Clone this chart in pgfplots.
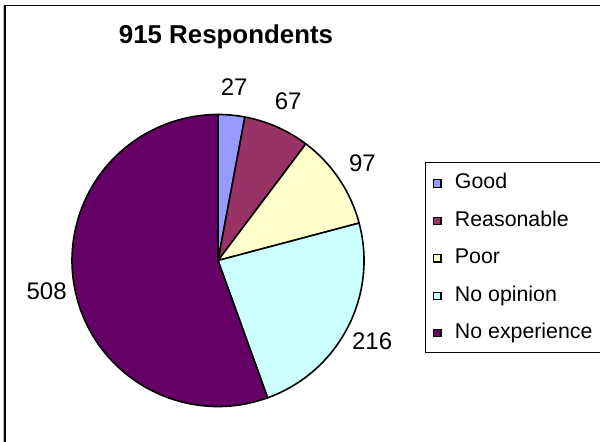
\documentclass[border=0pt]{standalone}
\usepackage{pgfplots}
\usepackage{pgfplotstable}
\pgfplotsset{compat=1.18}
\usepackage{fontspec}
\setmainfont{Liberation Sans}

\definecolor{cGood}{HTML}{9999FF}
\definecolor{cReas}{HTML}{993366}
\definecolor{cPoor}{HTML}{FFFFCC}
\definecolor{cNoop}{HTML}{CCFFFF}
\definecolor{cNoex}{HTML}{660066}

\pgfdeclareplotmark{nothing}{}

% pie centre (px units, y up) and slice value
\pgfplotstableread{
x   y     value
218 181.5 27
218 181.5 67
218 181.5 97
218 181.5 216
218 181.5 508
}\piedata

\newcommand\pieR{109.5pt}
\newcommand\pieL{130.5pt}
\gdef\piecum{0}

\pgfplotsset{
  pielegend/.style={legend image code/.code={%
      \path[draw=none, fill=none] (0pt,2pt) rectangle (16pt,4pt);
      \draw[fill=#1, draw=black, line width=0.8pt] (0pt,1.25pt) rectangle (5.5pt,6.75pt);}},
  pie slice/.style={
    forget plot,
    scatter, only marks, mark=nothing,
    point meta=explicit,
    point meta min=0, point meta max=1000,
    scatter/@pre marker code/.code={%
      \begingroup
      \pgfkeys{/pgf/fpu=false}%
      \pgfmathtruncatemacro\pv{round(\pgfplotspointmetatransformed)}%
      \pgfmathsetmacro\sa{90-\piecum*0.393442623}%
      \pgfmathsetmacro\newcum{\piecum+\pv}%
      \pgfmathsetmacro\ea{90-\newcum*0.393442623}%
      \pgfmathsetmacro\ma{(\sa+\ea)/2}%
      \global\let\piecum\newcum
      \fill[fill=#1, draw=black, line width=1.2pt, line join=round]
        (0pt,0pt) -- (\sa:\pieR) arc[start angle=\sa, end angle=\ea, radius=\pieR] -- cycle;
      \node[font=\fontsize{18}{21}\selectfont, inner sep=0pt, text height=12.9pt, text depth=0pt]
        at (\ma:\pieL) {\pv};
      \endgroup
    },
    scatter/@post marker code/.code={},
  },
}

\begin{document}
\begin{tikzpicture}
\begin{axis}[
  scale only axis,
  width=450pt, height=331.5pt,
  xmin=0, xmax=600, ymin=0, ymax=442,
  hide axis,
  clip=false,
  legend style={
    at={(axis description cs:0.70833,0.63348)}, anchor=north west,
    draw=black, line width=0.75pt, fill=white,
    inner xsep=5.7pt, inner ysep=8.2pt,
    row sep=14.5pt,
    cells={anchor=base west},
    nodes={inner sep=0pt, text height=11.5pt, text depth=2.1pt,
      font=\fontsize{16}{19}\selectfont},
  },
]
\draw[black!25, line width=0.8pt] (axis cs:3.6,0) -- (axis cs:3.6,437);
\draw[black, line width=1.1pt] (axis cs:5.2,0) -- (axis cs:5.2,436.5) -- (axis cs:600,436.5);
\node[anchor=base, inner sep=0pt, font=\fontsize{19.4}{23}\selectfont\bfseries]
  at (axis cs:226,398.7) {915 Respondents};

\addplot[pie slice=cGood] table[x=x, y=y, meta=value, skip coords between index={1}{5}] {\piedata};
\addplot[pie slice=cReas] table[x=x, y=y, meta=value, skip coords between index={0}{1}, skip coords between index={2}{5}] {\piedata};
\addplot[pie slice=cPoor] table[x=x, y=y, meta=value, skip coords between index={0}{2}, skip coords between index={3}{5}] {\piedata};
\addplot[pie slice=cNoop] table[x=x, y=y, meta=value, skip coords between index={0}{3}, skip coords between index={4}{5}] {\piedata};
\addplot[pie slice=cNoex] table[x=x, y=y, meta=value, skip coords between index={0}{4}] {\piedata};

\addlegendimage{pielegend=cGood}\addlegendentry{Good}
\addlegendimage{pielegend=cReas}\addlegendentry{Reasonable}
\addlegendimage{pielegend=cPoor}\addlegendentry{Poor}
\addlegendimage{pielegend=cNoop}\addlegendentry{No opinion}
\addlegendimage{pielegend=cNoex}\addlegendentry{No experience}
\end{axis}
\pgfresetboundingbox
\path (current axis.south west) rectangle (current axis.north east);
\end{tikzpicture}
\end{document}
